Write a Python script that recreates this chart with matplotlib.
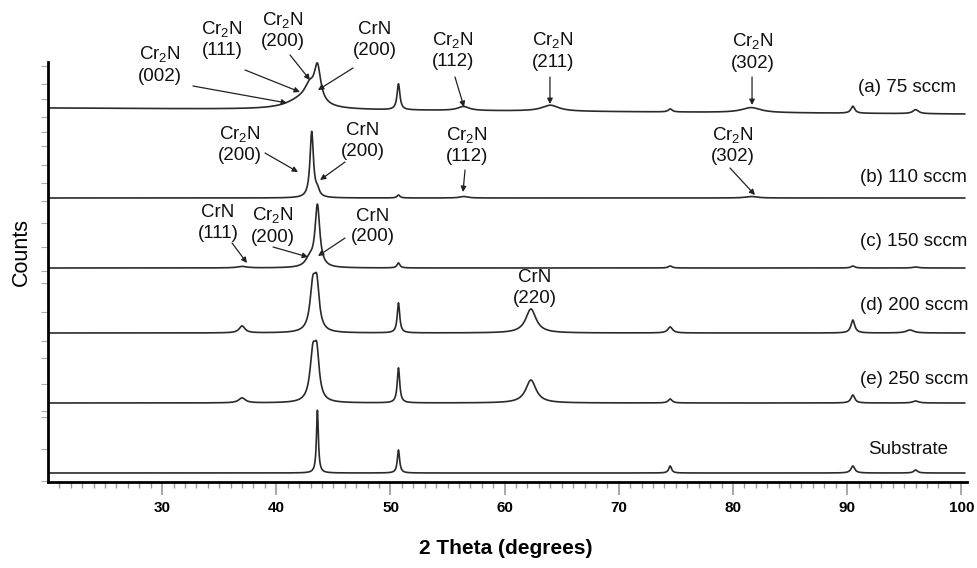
import numpy as np
import matplotlib
matplotlib.use("Agg")
import matplotlib.pyplot as plt

plt.rcParams['font.family'] = ['Liberation Sans', 'DejaVu Sans']
plt.rcParams['mathtext.fontset'] = 'custom'
plt.rcParams['mathtext.rm'] = 'Liberation Sans'
plt.rcParams['mathtext.it'] = 'Liberation Sans'

# sample labels and vertical offsets of each pattern (arbitrary counts)
labels = ['(a) 75 sccm', '(b) 110 sccm', '(c) 150 sccm', '(d) 200 sccm', '(e) 250 sccm', 'Substrate']
offsets = [374, 284, 214, 149, 79, 9]
slopes = [-0.075, 0, 0, 0, 0, 0]

# peaks: (2theta, height, half width)
peaks_75 = [(42.3, 10, 1.6), (42.9, 14, 0.5), (43.6, 36, 0.35), (50.7, 26, 0.15),
            (56.4, 4, 0.6), (64.0, 6, 0.9), (74.5, 3, 0.2), (81.6, 5, 1.0),
            (90.5, 7, 0.2), (96.0, 4, 0.3)]
peaks_110 = [(43.1, 66, 0.18), (43.6, 6, 0.2), (50.7, 3, 0.15), (56.4, 1.5, 0.4),
             (81.6, 1.5, 0.6)]
peaks_150 = [(37.0, 1.5, 0.5), (42.9, 8, 0.4), (43.6, 62, 0.25), (50.7, 5, 0.15),
             (74.5, 2, 0.2), (90.5, 2, 0.2), (96.0, 1, 0.3)]
peaks_200 = [(37.0, 7, 0.3), (43.2, 44, 0.3), (43.55, 40, 0.25), (50.7, 30, 0.13),
             (62.3, 24, 0.55), (74.5, 6, 0.25), (90.5, 13, 0.2), (95.5, 3, 0.4)]
peaks_250 = [(37.0, 5, 0.35), (43.2, 46, 0.3), (43.55, 41, 0.25), (50.7, 35, 0.13),
             (62.3, 23, 0.55), (74.5, 4, 0.2), (90.5, 8, 0.2), (96.0, 2, 0.3)]
peaks_sub = [(43.6, 63, 0.1), (50.7, 23, 0.12), (74.5, 7, 0.15), (90.5, 7, 0.2),
             (96.0, 3, 0.2)]
all_peaks = [peaks_75, peaks_110, peaks_150, peaks_200, peaks_250, peaks_sub]

# label positions (2theta, y)
label_pos = [(90.95, 394), (91.13, 304), (91.13, 240), (91.13, 177), (91.13, 102), (91.83, 33)]

# annotations: text, text position, arrow tail, arrow head
annots = [
    ('Cr$_2$N\n(002)', (29.81, 417.5), (32.70, 396), (40.94, 379)),
    ('Cr$_2$N\n(111)', (35.24, 443), (37.26, 412), (42.07, 390)),
    ('Cr$_2$N\n(200)', (40.59, 452), (41.20, 427), (42.95, 402)),
    ('CrN\n(200)', (48.64, 442), (46.72, 414), (43.65, 392)),
    ('Cr$_2$N\n(112)', (55.48, 432), (55.65, 405), (56.44, 375)),
    ('Cr$_2$N\n(211)', (64.24, 431.5), (63.97, 405), (63.97, 378)),
    ('Cr$_2$N\n(302)', (81.76, 430.5), (81.67, 405), (81.67, 377)),
    ('Cr$_2$N\n(200)', (36.82, 338), (39.01, 329), (41.90, 310)),
    ('CrN\n(200)', (47.59, 341), (46.02, 320), (43.83, 302)),
    ('Cr$_2$N\n(112)', (56.70, 337), (56.53, 312), (56.35, 290)),
    ('Cr$_2$N\n(302)', (80.00, 337), (79.74, 314), (81.93, 287)),
    ('CrN\n(111)', (34.89, 259), (36.12, 239), (37.43, 219)),
    ('Cr$_2$N\n(200)', (39.71, 256.5), (39.71, 235), (42.78, 225)),
    ('CrN\n(200)', (48.47, 255.5), (46.02, 244), (43.65, 226)),
    ('CrN\n(220)', (62.66, 194), None, None),
]

ytick_pos = [416, 398, 383, 365, 350, 336, 317, 299, 281, 259, 235, 211, 199,
             170, 141, 124, 98, 71, 65, 33, 1]


def pattern(x, offset, slope, peaks):
    y = offset + slope * (x - 20)
    for c, h, w in peaks:
        y = y + h / (1 + ((x - c) / w) ** 2)
    return y


fig = plt.figure(figsize=(9.78, 5.68), dpi=100)
ax = fig.add_axes([48 / 978, 1 - 482 / 568, 919 / 978, 420 / 568])

x = np.linspace(20, 100.3, 4000)
for off, sl, pk in zip(offsets, slopes, all_peaks):
    ax.plot(x, pattern(x, off, sl, pk), color='#2a2a2a', lw=1.2)

for lab, (lx, ly) in zip(labels, label_pos):
    ax.text(lx, ly, lab, fontsize=13.5, ha='left', va='center', color='#111')

for txt, tpos, tail, head in annots:
    ax.text(tpos[0], tpos[1], txt, fontsize=13.5, ha='center', va='center',
            linespacing=1.3, color='#111')
    if tail is not None:
        ax.annotate('', xy=head, xytext=tail,
                    arrowprops=dict(arrowstyle='-|>', lw=0.9, color='#222',
                                    mutation_scale=8, shrinkA=0, shrinkB=0))

ax.set_xlim(20, 100.5)
ax.set_ylim(0, 420)
ax.spines['top'].set_visible(False)
ax.spines['right'].set_visible(False)
ax.spines['left'].set_linewidth(2)
ax.spines['bottom'].set_linewidth(2)

ax.set_xticks(np.arange(30, 101, 10))
ax.set_xticks(np.arange(21, 101, 1), minor=True)
ax.tick_params(axis='x', which='major', length=9, width=1.5, color='#aaaaaa',
               labelsize=11, pad=5)
ax.tick_params(axis='x', which='minor', length=4, width=1, color='#999999')
for t in ax.get_xticklabels():
    t.set_fontweight('bold')

ax.set_yticks(ytick_pos)
ax.set_yticklabels([])
ax.tick_params(axis='y', length=5, width=0.8, color='#aaaaaa')

fig.text(506 / 978, 1 - 548 / 568, '2 Theta (degrees)', fontsize=15, fontweight='bold',
         ha='center', va='center')
fig.text(21 / 978, 1 - 252 / 568, 'Counts', fontsize=15.5, rotation=90,
         ha='center', va='center')

fig.savefig('out.png', dpi=100)
